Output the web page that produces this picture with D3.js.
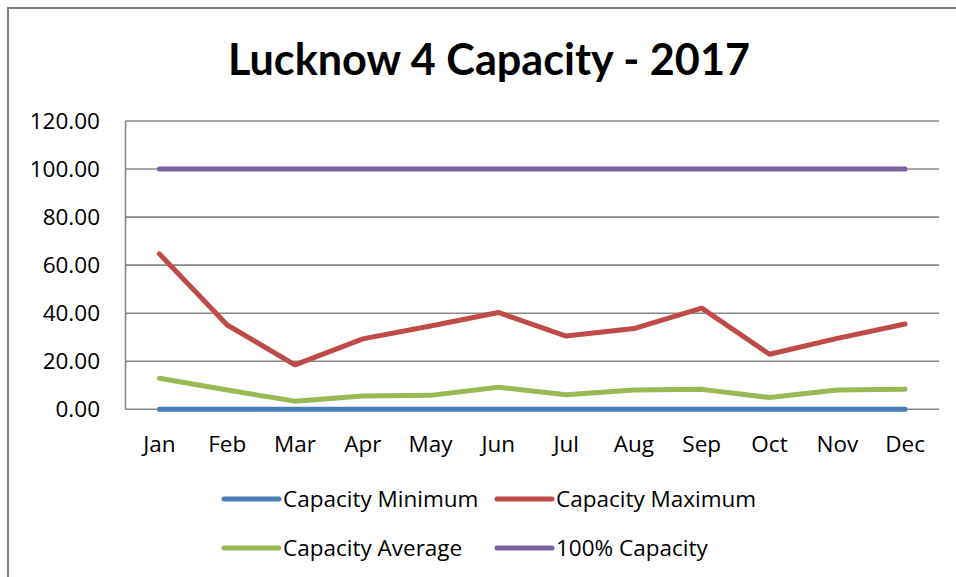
<!DOCTYPE html>
<html>
<head>
<meta charset="utf-8">
<script src="https://cdn.jsdelivr.net/npm/d3@7"></script>
<style>
body{margin:0;background:#fff;}
text{font-family:"Open Sans",Lato,sans-serif;fill:#000;}
.title{font-family:Lato,"Open Sans",sans-serif;}
</style>
</head>
<body>
<svg id="chart" width="956" height="577"></svg>
<script>
// data
var months = ["Jan","Feb","Mar","Apr","May","Jun","Jul","Aug","Sep","Oct","Nov","Dec"];
var capMin = [0,0,0,0,0,0,0,0,0,0,0,0];
var capMax = [64.7,35.1,18.5,29.3,34.7,40.3,30.5,33.6,42.1,22.9,29.5,35.5];
var capAvg = [12.9,8.0,3.4,5.5,5.8,9.2,6.1,8.0,8.3,4.9,8.0,8.3];
var cap100 = [100,100,100,100,100,100,100,100,100,100,100,100];
var yTicks = [0,20,40,60,80,100,120];

var series = [
  {name:"Capacity Minimum", values:capMin, color:"#4A7EBB"},
  {name:"Capacity Maximum", values:capMax, color:"#BE4B48"},
  {name:"Capacity Average", values:capAvg, color:"#98B954"},
  {name:"100% Capacity", values:cap100, color:"#7D60A0"}
];

var svg = d3.select("#chart");
var plot = {left:125.5, right:939, top:121, bottom:409.3};
var fs = 22.5; // label font size

// frame
svg.append("path")
   .attr("d","M8,577 L8,8 L956,8")
   .attr("fill","none")
   .attr("stroke","#808080")
   .attr("stroke-width",2);

// title
svg.append("text").attr("class","title")
   .attr("x",489).attr("y",75)
   .attr("text-anchor","middle")
   .attr("font-size",43).attr("font-weight","bold")
   .attr("textLength",522).attr("lengthAdjust","spacingAndGlyphs")
   .text("Lucknow 4 Capacity - 2017");

var x = d3.scaleBand().domain(months).range([plot.left,plot.right]);
var y = d3.scaleLinear().domain([0,120]).range([plot.bottom,plot.top]);

// gridlines
svg.append("g").selectAll("line").data(yTicks).enter().append("line")
   .attr("x1",plot.left).attr("x2",plot.right)
   .attr("y1",function(d){return y(d);}).attr("y2",function(d){return y(d);})
   .attr("stroke","#888").attr("stroke-width",1.6);

// y axis line
svg.append("line")
   .attr("x1",plot.left).attr("x2",plot.left)
   .attr("y1",plot.top).attr("y2",plot.bottom)
   .attr("stroke","#888").attr("stroke-width",1.6);

// y labels
svg.append("g").selectAll("text").data(yTicks).enter().append("text")
   .attr("x",100).attr("y",function(d){return y(d)+8;})
   .attr("text-anchor","end").attr("font-size",fs)
   .text(function(d){return d3.format(".2f")(d);});

// x labels
svg.append("g").selectAll("text").data(months).enter().append("text")
   .attr("x",function(d){return x(d)+x.bandwidth()/2;})
   .attr("y",452)
   .attr("text-anchor","middle").attr("font-size",fs)
   .text(function(d){return d;});

// lines
var line = d3.line()
   .x(function(d,i){return x(months[i])+x.bandwidth()/2;})
   .y(function(d){return y(d);});

svg.append("g").selectAll("path").data(series).enter().append("path")
   .attr("d",function(s){return line(s.values);})
   .attr("fill","none")
   .attr("stroke",function(s){return s.color;})
   .attr("stroke-width",5)
   .attr("stroke-linecap","round")
   .attr("stroke-linejoin","round");

// legend
var legendPos = [[224,499],[497,499],[224,548],[497,548]];
var lg = svg.append("g").selectAll("g").data(series).enter().append("g")
   .attr("transform",function(d,i){return "translate("+legendPos[i][0]+","+legendPos[i][1]+")";});
lg.append("line")
   .attr("x1",0).attr("x2",55).attr("y1",0).attr("y2",0)
   .attr("stroke",function(d){return d.color;})
   .attr("stroke-width",5).attr("stroke-linecap","round");
lg.append("text")
   .attr("x",59).attr("y",8).attr("font-size",fs)
   .text(function(d){return d.name;});
</script>
</body>
</html>
